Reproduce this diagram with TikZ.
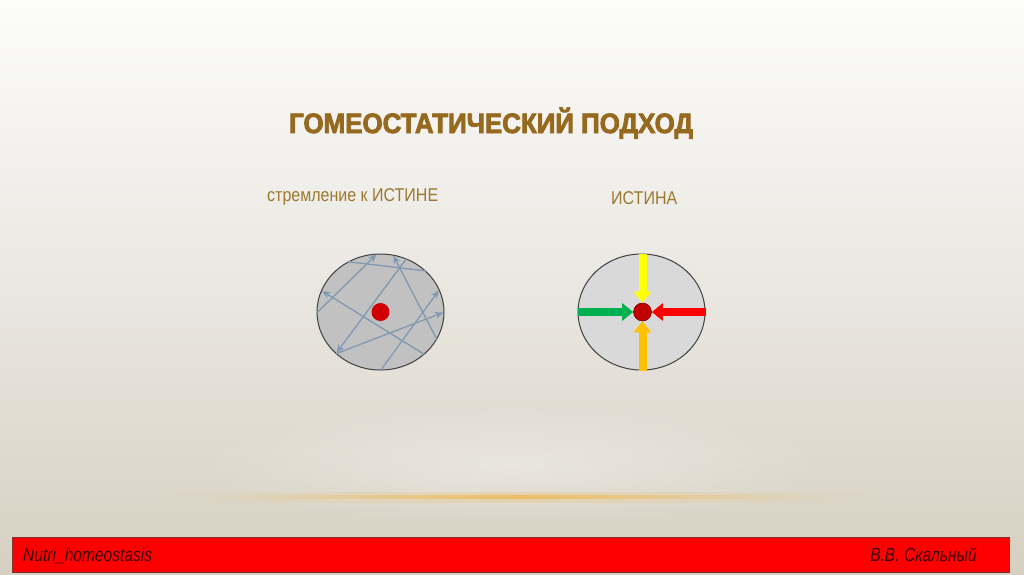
\documentclass[tikz,border=0pt]{standalone}
\usepackage{fontspec}
\setmainfont{Liberation Sans}
\newfontfamily\titlefont[FakeStretch=0.925,FakeBold=3]{Liberation Sans}
\newfontfamily\narrowfont[FakeStretch=0.865]{Liberation Sans}
\newfontfamily\footfont[FakeStretch=0.82]{Liberation Sans}
\usepackage{xcolor}
\usepackage{tikz}
\usetikzlibrary{shapes, arrows.meta, positioning, fadings}

\definecolor{bgtop}{RGB}{252,252,251}
\definecolor{bgmid}{RGB}{234,231,225}
\definecolor{bgbot}{RGB}{214,208,193}
\definecolor{glow}{RGB}{236,190,100}
\definecolor{titlebrown}{RGB}{150,106,30}
\definecolor{labelbrown}{RGB}{155,120,45}
\definecolor{ringgray}{RGB}{64,64,64}
\definecolor{seekfill}{RGB}{193,193,193}
\definecolor{truthfill}{RGB}{217,217,217}
\definecolor{raygray}{RGB}{128,152,178}
\definecolor{seekred}{RGB}{208,0,0}
\definecolor{truthred}{RGB}{192,0,0}
\definecolor{barred}{RGB}{255,0,0}
\definecolor{barline}{RGB}{130,50,50}
\definecolor{foottext}{RGB}{60,0,0}
\definecolor{pushyellow}{RGB}{255,255,0}
\definecolor{pushgreen}{RGB}{0,176,80}
\definecolor{pushred}{RGB}{255,0,0}
\definecolor{pushamber}{RGB}{255,192,0}

\tikzfading[name=softglow, inner color=transparent!0, outer color=transparent!100]

\begin{document}
\begin{tikzpicture}[x=1pt, y=-1pt,
    ball/.style={ellipse, draw=ringgray, line width=1pt, minimum width=127pt, minimum height=116pt},
    dot/.style={circle, minimum size=18pt, inner sep=0pt},
    trace/.style={draw=raygray, line width=1.3pt},
    ray/.style={trace, -{Stealth[length=8pt,width=7pt]}, shorten >=1.5pt},
    push/.style={-{Triangle[width=17pt,length=11pt]}, line width=8pt},
    caption/.style={anchor=base west, inner sep=0pt, text=labelbrown, font=\narrowfont\fontsize{18.5}{20}\selectfont},
    foot/.style={inner sep=0pt, text=foottext, font=\footfont\itshape\fontsize{19}{21}\selectfont}
]
    \useasboundingbox (0,0) rectangle (1024,574);

    % Background
    \shade[top color=bgtop, bottom color=bgbot, middle color=bgmid] (0,0) rectangle (1024,574);
    \fill[white, opacity=0.35, path fading=softglow] (512,465) ellipse (320 and 60);
    \shade[left color=bgbot!70!bgmid, right color=bgbot!70!bgmid, middle color=glow, opacity=0.3] (150,492) rectangle (890,502);
    \shade[left color=bgbot!70!bgmid, right color=bgbot!70!bgmid, middle color=glow] (196,495.5) rectangle (843,498.5);

    % Title and captions
    \node[anchor=base, text=titlebrown, font=\titlefont\bfseries\fontsize{28}{30}\selectfont] (title) at (491,133) {ГОМЕОСТАТИЧЕСКИЙ ПОДХОД};
    \node[caption] (seeklabel) at (267,201) {стремление к ИСТИНЕ};
    \node[caption] (truthlabel) at (611,204) {ИСТИНА};

    % Striving to the truth
    \node[ball, fill=seekfill] (seek) at (380.5,312) {};
    \draw[ray] (seek.181) -- (seek.93);
    \draw[trace] (seek.123) -- (seek.42);
    \draw[ray] (seek.334) -- (seek.78);
    \draw[ray] (seek.316) -- (seek.160);
    \draw[ray] (seek.64) -- (seek.223);
    \draw[ray] (seek.223) -- (seek.0);
    \draw[ray] (seek.270) -- (seek.21);
    \node[dot, fill=seekred] (seekdot) at (380.5,312) {};

    % Truth
    \node[ball, fill=truthfill] (truth) at (641.5,312) {};
    \node[dot, fill=truthred, draw=truthred!70!black, line width=0.6pt] (truthdot) at (642.5,312) {};
    \draw[push, draw=pushyellow] (truth.north -| truthdot) -- (truthdot.north);
    \draw[push, draw=pushgreen] (truth.west) -- (truthdot.west);
    \draw[push, draw=pushred] (truth.east) -- (truthdot.east);
    \draw[push, draw=pushamber] (truth.south -| truthdot) -- (truthdot.south);

    % Footer
    \node[draw=barline, fill=barred, line width=1pt, minimum width=997pt, minimum height=35pt, inner sep=0pt] (bar) at (511,554.5) {};
    \node[foot, anchor=base west] (course) at (23,561) {Nutri\_homeostasis};
    \node[foot, anchor=base east] (author) at (977,561) {В.В. Скальный};
\end{tikzpicture}
\end{document}
